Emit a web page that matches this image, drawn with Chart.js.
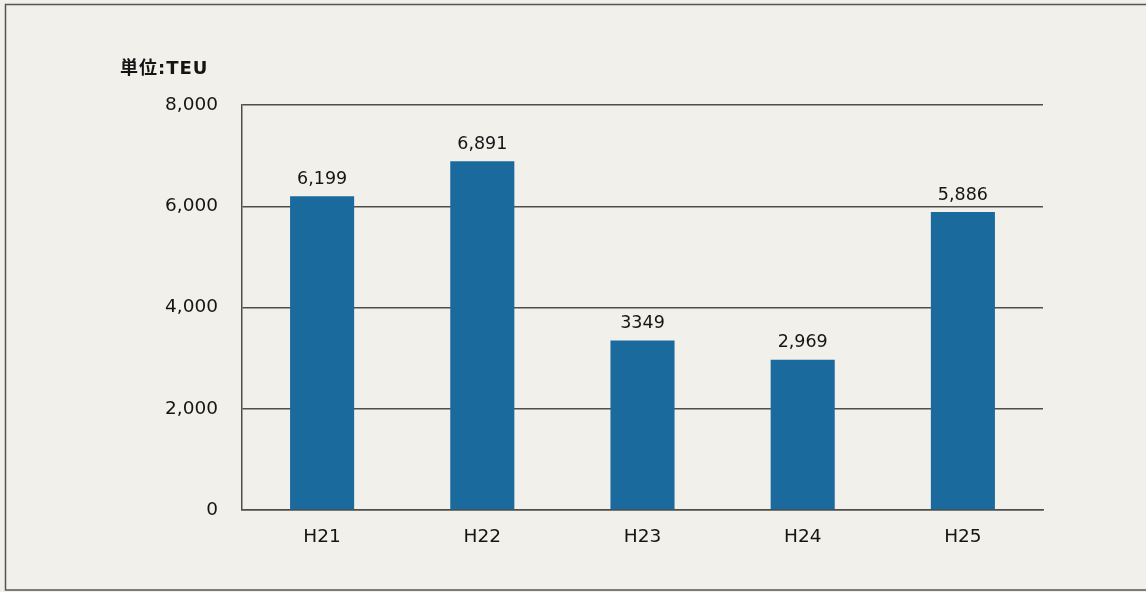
<!DOCTYPE html>
<html>
<head>
<meta charset="utf-8">
<script src="https://cdn.jsdelivr.net/npm/chart.js@4.4.0/dist/chart.umd.min.js"></script>
<style>
  html, body { margin: 0; padding: 0; background: #f1f0ea; }
  #wrap { width: 1146px; height: 592px; }
</style>
</head>
<body>
<div id="wrap"><canvas id="grafica" width="1146" height="592"></canvas></div>
<script>
const categorias = ["H21", "H22", "H23", "H24", "H25"]
const valores = [6199, 6891, 3349, 2969, 5886]
const etiquetasValores = ["6,199", "6,891", "3349", "2,969", "5,886"]
const etiquetasEjeY = ["0", "2,000", "4,000", "6,000", "8,000"]
const unidad = "単位:TEU"

const ctx = document.getElementById('grafica').getContext('2d')

// fondo, marco y unidad
const fondo = {
    id: 'fondo',
    beforeDraw(chart) {
        const c = chart.ctx
        c.save()
        c.fillStyle = '#f1f0ea'
        c.fillRect(0, 0, chart.width, chart.height)
        c.strokeStyle = '#555'
        c.lineWidth = 1.5
        c.beginPath()
        c.moveTo(chart.width, 4.5)
        c.lineTo(5.5, 4.5)
        c.lineTo(5.5, 590)
        c.lineTo(chart.width, 590)
        c.stroke()
        c.fillStyle = '#151515'
        c.font = 'bold 18px "DejaVu Sans", "Noto Sans CJK JP", sans-serif'
        c.letterSpacing = '1px'
        c.textBaseline = 'middle'
        c.textAlign = 'left'
        c.fillText(unidad, 120, 69)
        c.restore()
    }
}

// etiquetas sobre las barras
const etiquetas = {
    id: 'etiquetas',
    afterDatasetsDraw(chart) {
        const c = chart.ctx
        const meta = chart.getDatasetMeta(0)
        c.save()
        c.fillStyle = '#151515'
        c.font = '17.5px "DejaVu Sans", sans-serif'
        c.textAlign = 'center'
        c.textBaseline = 'bottom'
        meta.data.forEach((bar, i) => {
            c.fillText(etiquetasValores[i], bar.x, bar.y - 8)
        })
        c.restore()
    }
}

new Chart(ctx, {
    type: 'bar',
    data: {
        labels: categorias,
        datasets: [{
            data: valores,
            backgroundColor: '#1b6a9e',
            barPercentage: 0.4,
            categoryPercentage: 1
        }]
    },
    options: {
        responsive: false,
        animation: false,
        layout: { padding: { top: 105, right: 103, left: 0, bottom: 0 } },
        plugins: {
            legend: { display: false },
            tooltip: { enabled: false }
        },
        scales: {
            x: {
                grid: { display: false, drawTicks: false },
                border: { display: true, color: '#4e4e4e', width: 1.5 },
                ticks: {
                    color: '#151515',
                    font: { family: '"DejaVu Sans", sans-serif', size: 18.5 },
                    padding: 16
                },
                afterFit(scale) { scale.height = 82 }
            },
            y: {
                min: 0,
                max: 8000,
                ticks: {
                    stepSize: 2000,
                    color: '#151515',
                    padding: 24,
                    font: { family: '"DejaVu Sans", sans-serif', size: 18.5 },
                    callback: (v, i) => etiquetasEjeY[i]
                },
                grid: { color: '#4e4e4e', lineWidth: 1.5, drawTicks: false },
                border: { display: true, color: '#4e4e4e', width: 1.5 },
                afterFit(scale) { scale.width = 242 }
            }
        }
    },
    plugins: [fondo, etiquetas]
});
</script>
</body>
</html>
